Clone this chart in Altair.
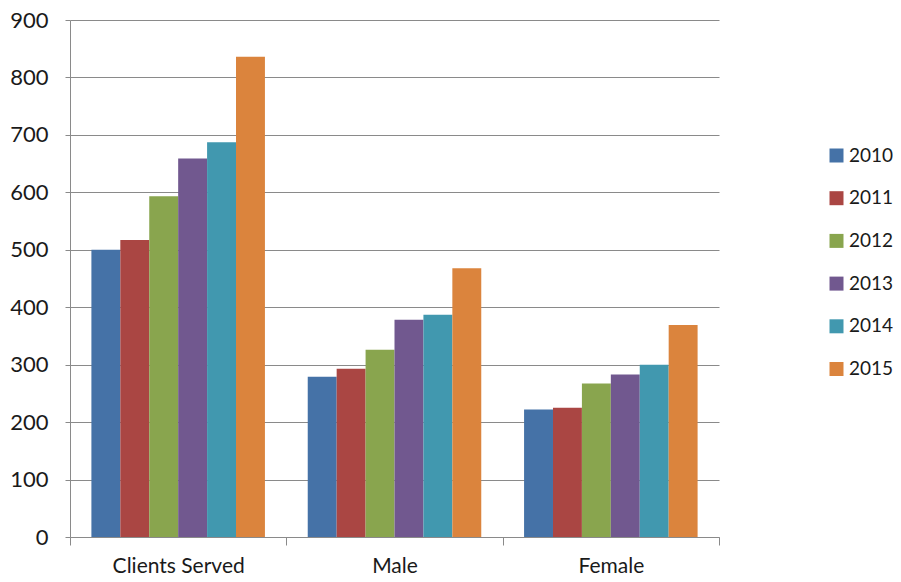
import altair as alt
import pandas as pd

categories = ["Clients Served", "Male", "Female"]
years = ["2010", "2011", "2012", "2013", "2014", "2015"]
values = {
    "Clients Served": [500, 517, 593, 659, 687, 836],
    "Male": [279, 293, 326, 378, 387, 468],
    "Female": [222, 225, 267, 283, 300, 369],
}
colors = ["#4572A7", "#AA4643", "#89A54E", "#71588F", "#4198AF", "#DB843D"]

rows = []
for c in categories:
    for y, v in zip(years, values[c]):
        rows.append({"category": c, "year": y, "value": v})
df = pd.DataFrame(rows)

FONT = "Lato"
GRID = "#8a8a8a"
TXT = "#1a1a1a"

chart = alt.Chart(df).mark_bar().encode(
    x=alt.X("category:N", sort=categories, title=None,
            scale=alt.Scale(paddingInner=0, paddingOuter=0),
            axis=alt.Axis(labelAngle=0, labelFontSize=21, labelFont=FONT, labelColor=TXT,
                          tickBand="extent", tickSize=8, tickColor=GRID, domainColor=GRID,
                          labelPadding=10, grid=False)),
    xOffset=alt.XOffset("year:N", sort=years,
                        scale=alt.Scale(paddingInner=0, paddingOuter=0.74)),
    y=alt.Y("value:Q", title=None,
            scale=alt.Scale(domain=[0, 900], nice=False),
            axis=alt.Axis(values=list(range(0, 901, 100)), labelFontSize=22, labelFont=FONT,
                          labelColor=TXT, tickSize=5, tickColor=GRID, domainColor=GRID,
                          gridColor=GRID, labelPadding=17)),
    color=alt.Color("year:N", sort=years, title=None,
                    scale=alt.Scale(domain=years, range=colors),
                    legend=alt.Legend(orient="none", legendX=757, legendY=126,
                                      symbolType="square", symbolSize=196,
                                      symbolStrokeWidth=0, labelFontSize=19,
                                      labelFont=FONT, labelColor=TXT,
                                      rowPadding=22.7, labelOffset=3)),
).properties(
    width=649, height=517,
    autosize=alt.AutoSizeParams(type="none"),
    padding={"left": 62, "top": 12, "right": 174, "bottom": 40},
).configure_view(stroke=None).configure_axis(domainWidth=1, gridWidth=1)

chart.save("out.html", embed_options={"renderer": "svg", "actions": False})
